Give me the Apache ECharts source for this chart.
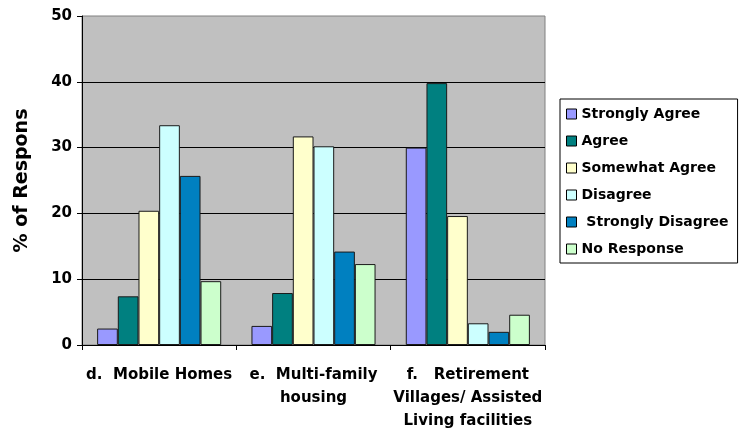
<!DOCTYPE html>
<html>
<head>
<meta charset="utf-8">
<script src="https://cdn.jsdelivr.net/npm/echarts@6/dist/echarts.min.js"></script>
<style>
  html, body { margin: 0; padding: 0; background: #fff; }
  #chart { width: 740px; height: 430px; }
</style>
</head>
<body>
<div id="chart"></div>
<script>
// categories and survey shares (% of responses)
const categories = [
  "d.  Mobile Homes",
  "e.  Multi-family\nhousing",
  "f.   Retirement\nVillages/ Assisted\nLiving facilities",
];
const seriesNames = [
  "Strongly Agree",
  "Agree",
  "Somewhat Agree",
  "Disagree",
  " Strongly Disagree",
  "No Response",
];
const stronglyAgree = [2.5, 2.9, 30.0];
const agree = [7.4, 7.9, 39.8];
const somewhatAgree = [20.4, 31.7, 19.6];
const disagree = [33.4, 30.2, 3.3];
const stronglyDisagree = [25.7, 14.2, 2.0];
const noResponse = [9.7, 12.3, 4.6];
const yTicks = [0, 10, 20, 30, 40, 50];

const colors = ["#9999FF", "#008080", "#FFFFCC", "#CCFFFF", "#0080C0", "#CCFFCC"];
const values = [stronglyAgree, agree, somewhatAgree, disagree, stronglyDisagree, noResponse];

const font = "DejaVu Sans, sans-serif";

const chart = echarts.init(document.getElementById("chart"));

const option = {
  animation: false,
  textStyle: { fontFamily: font },
  grid: {
    left: 82,
    right: 195,
    top: 16,
    bottom: 85,
    containLabel: false,
    outerBoundsMode: "none",
    show: true,
    backgroundColor: "#C0C0C0",
    borderColor: "#808080",
    borderWidth: 1,
  },
  legend: {
    orient: "vertical",
    left: 560,
    top: 99,
    borderColor: "#000",
    borderWidth: 1,
    padding: [8, 9, 7, 6],
    itemWidth: 10,
    itemHeight: 10,
    itemGap: 13,
    itemStyle: { borderColor: "#000", borderWidth: 1 },
    icon: "rect",
    textStyle: { fontSize: 14, fontWeight: "bold", color: "#000", fontFamily: font },
    data: seriesNames,
  },
  xAxis: {
    type: "category",
    data: categories,
    axisLine: { lineStyle: { color: "#000", width: 1 } },
    axisTick: { show: true, length: 5, lineStyle: { color: "#000" } },
    axisLabel: {
      interval: 0,
      margin: 19,
      color: "#000",
      fontSize: 15,
      fontWeight: "bold",
      lineHeight: 23,
      fontFamily: font,
    },
  },
  yAxis: {
    type: "value",
    min: yTicks[0],
    max: yTicks[yTicks.length - 1],
    interval: 10,
    name: "% of Responses",
    nameLocation: "middle",
    nameRotate: 90,
    nameGap: 50,
    nameTruncate: { maxWidth: 147, ellipsis: "" },
    nameTextStyle: {
      fontSize: 19,
      fontWeight: "bold",
      color: "#000",
      fontFamily: font,
    },
    axisLine: { show: true, lineStyle: { color: "#000", width: 1 } },
    axisTick: { show: true, length: 5, lineStyle: { color: "#000" } },
    axisLabel: {
      margin: 10,
      color: "#000",
      fontSize: 15,
      fontWeight: "bold",
      fontFamily: font,
    },
    splitLine: {
      show: true,
      showMaxLine: false,
      lineStyle: { color: "#000", width: 1 },
    },
  },
  series: seriesNames.map((name, i) => ({
    name,
    type: "bar",
    data: values[i],
    barGap: "0%",
    barCategoryGap: "19.6%",
    itemStyle: { color: colors[i], borderColor: "#1a1a1a", borderWidth: 1 },
  })),
};

chart.setOption(option);
</script>
</body>
</html>
